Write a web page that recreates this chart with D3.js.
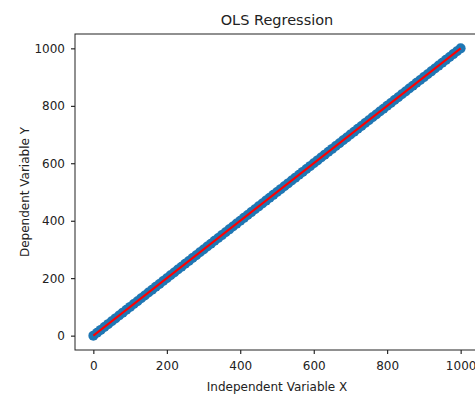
<!DOCTYPE html>
<html>
<head>
<meta charset="utf-8">
<script src="https://cdn.jsdelivr.net/npm/d3@7"></script>
<style>
  html, body { margin: 0; padding: 0; background: #fff; }
  svg { display: block; font-family: "DejaVu Sans", sans-serif; }
</style>
</head>
<body>
<div id="chart"></div>
<script>
const xValues = [0, 10, 20, 30, 40, 50, 60, 70, 80, 90, 100, 110, 120, 130, 140, 150, 160, 170, 180, 190,
  200, 210, 220, 230, 240, 250, 260, 270, 280, 290, 300, 310, 320, 330, 340, 350, 360, 370, 380, 390,
  400, 410, 420, 430, 440, 450, 460, 470, 480, 490, 500, 510, 520, 530, 540, 550, 560, 570, 580, 590,
  600, 610, 620, 630, 640, 650, 660, 670, 680, 690, 700, 710, 720, 730, 740, 750, 760, 770, 780, 790,
  800, 810, 820, 830, 840, 850, 860, 870, 880, 890, 900, 910, 920, 930, 940, 950, 960, 970, 980, 990, 1000];
const yValues = [0, 10, 20, 30, 40, 50, 60, 70, 80, 90, 100, 110, 120, 130, 140, 150, 160, 170, 180, 190,
  200, 210, 220, 230, 240, 250, 260, 270, 280, 290, 300, 310, 320, 330, 340, 350, 360, 370, 380, 390,
  400, 410, 420, 430, 440, 450, 460, 470, 480, 490, 500, 510, 520, 530, 540, 550, 560, 570, 580, 590,
  600, 610, 620, 630, 640, 650, 660, 670, 680, 690, 700, 710, 720, 730, 740, 750, 760, 770, 780, 790,
  800, 810, 820, 830, 840, 850, 860, 870, 880, 890, 900, 910, 920, 930, 940, 950, 960, 970, 980, 990, 1000];

// Fitted OLS line
const fitSlope = 1.0;
const fitIntercept = 0.0;
const fitRange = [0, 1000];

const xTicks = [0, 200, 400, 600, 800, 1000];
const yTicks = [0, 200, 400, 600, 800, 1000];

const width = 475, height = 394;
const margin = { top: 34, left: 75 };
const plotW = 404, plotH = 316;

const svg = d3.select('#chart').append('svg')
  .attr('width', width).attr('height', height);

const x = d3.scaleLinear().domain([-50, 1050]).range([margin.left, margin.left + plotW]);
const y = d3.scaleLinear().domain([-50, 1050]).range([margin.top + plotH, margin.top]);

// Points
const points = xValues.map((v, i) => [v, yValues[i]]);
svg.append('g')
  .selectAll('circle')
  .data(points)
  .join('circle')
  .attr('cx', d => x(d[0]))
  .attr('cy', d => y(d[1]))
  .attr('r', 5)
  .attr('fill', '#1f77b4');

// Regression line
const linePts = fitRange.map(v => [v, fitIntercept + fitSlope * v]);
svg.append('path')
  .attr('d', d3.line().x(d => x(d[0])).y(d => y(d[1]))(linePts))
  .attr('stroke', '#ff0000')
  .attr('stroke-width', 2)
  .attr('fill', 'none');

// Axes
const xAxis = svg.append('g')
  .attr('transform', `translate(0,${margin.top + plotH})`)
  .call(d3.axisBottom(x).tickValues(xTicks).tickSize(4).tickPadding(7).tickFormat(d3.format('d')));
const yAxis = svg.append('g')
  .attr('transform', `translate(${margin.left},0)`)
  .call(d3.axisLeft(y).tickValues(yTicks).tickSize(4).tickPadding(6).tickFormat(d3.format('d')));

[xAxis, yAxis].forEach(g => {
  g.select('.domain').remove();
  g.selectAll('line').attr('stroke', '#000').attr('stroke-width', 1);
  g.selectAll('text').attr('fill', '#222').style('font-size', '12px').style('font-family', '"DejaVu Sans", sans-serif');
});

// Frame
svg.append('rect')
  .attr('x', margin.left).attr('y', margin.top)
  .attr('width', plotW).attr('height', plotH)
  .attr('fill', 'none').attr('stroke', '#222').attr('stroke-width', 1);

// Title and labels
svg.append('text')
  .attr('x', margin.left + plotW / 2).attr('y', 25)
  .attr('text-anchor', 'middle')
  .attr('fill', '#222')
  .style('font-size', '14.5px')
  .text('OLS Regression');

svg.append('text')
  .attr('x', margin.left + plotW / 2).attr('y', 391)
  .attr('text-anchor', 'middle')
  .attr('fill', '#222')
  .style('font-size', '12px')
  .text('Independent Variable X');

svg.append('text')
  .attr('transform', `translate(28.5,${margin.top + plotH / 2}) rotate(-90)`)
  .attr('text-anchor', 'middle')
  .attr('fill', '#222')
  .style('font-size', '12px')
  .text('Dependent Variable Y');
</script>
</body>
</html>
